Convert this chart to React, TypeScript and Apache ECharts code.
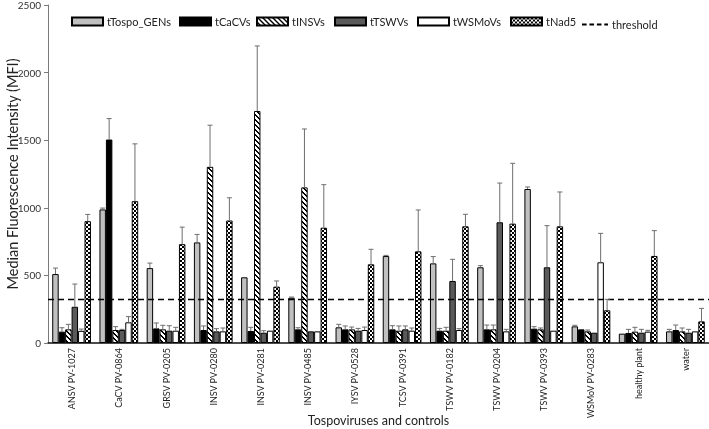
import React, { useEffect, useRef } from "react";
import * as echarts from "echarts";

const categories = [
  "ANSV PV-1027", "CaCV PV-0864", "GRSV PV-0205", "INSV PV-0280", "INSV PV-0281",
  "INSV PV-0485", "IYSV PV-0528", "TCSV PV-0391", "TSWV PV-0182", "TSWV PV-0204",
  "TSWV PV-0393", "WSMoV PV-0283", "healthy plant", "water",
];

const tTospo = [510, 988, 554, 744, 486, 335, 116, 643, 589, 560, 1139, 123, 69, 86];
const tTospoSD = [44, 10, 37, 59, 0, 5, 22, 5, 50, 12, 15, 8, 0, 15];
const tCaCV = [84, 1505, 108, 96, 89, 101, 101, 101, 91, 101, 106, 101, 74, 96];
const tCaCVSD = [29, 155, 40, 30, 27, 12, 25, 27, 17, 32, 15, 0, 27, 37];
const tINSV = [101, 96, 101, 1303, 1716, 1151, 101, 91, 91, 101, 101, 86, 84, 86];
const tINSVSD = [37, 25, 30, 308, 481, 432, 17, 35, 25, 32, 10, 10, 32, 25];
const tTSWV = [268, 96, 91, 86, 76, 86, 91, 101, 459, 893, 560, 76, 76, 76];
const tTSWVSD = [168, 5, 37, 20, 15, 0, 17, 25, 160, 290, 308, 0, 25, 25];
const tWSMoV = [90, 153, 91, 86, 91, 86, 96, 91, 96, 86, 91, 597, 84, 86];
const tWSMoVSD = [13, 42, 25, 25, 0, 0, 22, 20, 10, 15, 0, 214, 10, 0];
const tNad5 = [901, 1049, 731, 906, 417, 853, 582, 678, 863, 883, 863, 242, 644, 160];
const tNad5SD = [50, 424, 126, 168, 42, 318, 111, 306, 89, 446, 254, 81, 187, 96];

const threshold = 327;
const yTicks = { min: 0, max: 2500, interval: 500 };
const legendNames = ["tTospo_GENs", "tCaCVs", "tINSVs", "tTSWVs", "tWSMoVs", "tNad5", "threshold"];

function makePattern(kind: "stripe" | "checker") {
  const c = document.createElement("canvas");
  const s = kind === "stripe" ? 5 : 4;
  c.width = s;
  c.height = s;
  const ctx = c.getContext("2d")!;
  ctx.fillStyle = "#ffffff";
  ctx.fillRect(0, 0, s, s);
  ctx.fillStyle = "#000000";
  for (let y = 0; y < s; y++) {
    for (let x = 0; x < s; x++) {
      let on = false;
      if (kind === "stripe") on = ((x - y + 10) % 5) < 2;
      else on = ((Math.floor(x / 2) + Math.floor(y / 2)) % 2) === 0;
      if (on) ctx.fillRect(x, y, 1, 1);
    }
  }
  return { image: c.toDataURL(), repeat: "repeat", imageWidth: s, imageHeight: s } as any;
}

const FONT = "Lato, 'Open Sans', sans-serif";
const NARROW = "'Liberation Sans Narrow', Lato, sans-serif";
const DASH_ICON = "path://M0,0h5v2h-5z M8,0h5v2h-5z M16,0h5v2h-5z M24,0h4v2h-4z";

export default function App() {
  const ref = useRef<HTMLDivElement>(null);
  useEffect(() => {
    document.body.style.margin = "0";
    const chart = echarts.init(ref.current!, null, { renderer: "svg" });
    const stripe = makePattern("stripe");
    const checker = makePattern("checker");
    const defs = [
      { name: "tTospo_GENs", vals: tTospo, sd: tTospoSD, color: "#c0c0c0" as any },
      { name: "tCaCVs", vals: tCaCV, sd: tCaCVSD, color: "#000000" as any },
      { name: "tINSVs", vals: tINSV, sd: tINSVSD, color: stripe },
      { name: "tTSWVs", vals: tTSWV, sd: tTSWVSD, color: "#5a5a5a" as any },
      { name: "tWSMoVs", vals: tWSMoV, sd: tWSMoVSD, color: "#ffffff" as any },
      { name: "tNad5", vals: tNad5, sd: tNad5SD, color: checker },
    ];
    const n = defs.length;
    const gapRatio = 0.18;
    const barSeries = defs.map((d) => ({
      name: d.name,
      type: "bar",
      data: d.vals,
      barGap: "0%",
      barCategoryGap: "18%",
      itemStyle: { color: d.color, borderColor: "#000", borderWidth: 1 },
      z: 2,
    }));
    const errSeries = defs.map((d, k) => ({
      type: "custom",
      name: d.name + "_err",
      z: 5,
      silent: true,
      data: d.vals.map((v, i) => [i, v, v + d.sd[i]]),
      encode: { x: 0, y: [1, 2] },
      renderItem: (params: any, api: any) => {
        const i = api.value(0);
        const v = api.value(1);
        const t = api.value(2);
        if (t <= v) return null;
        const base = api.coord([i, v]);
        const top = api.coord([i, t]);
        const band = api.size([1, 0])[0];
        const bw = (band * (1 - gapRatio)) / n;
        const x = base[0] + (k - (n - 1) / 2) * bw;
        const style = { stroke: "#6e6e6e", lineWidth: 1 };
        return {
          type: "group",
          children: [
            { type: "line", shape: { x1: x, y1: base[1], x2: x, y2: top[1] }, style },
            { type: "line", shape: { x1: x - 2.5, y1: top[1], x2: x + 2.5, y2: top[1] }, style },
          ],
        };
      },
    }));
    const thresholdSeries = {
      name: "threshold",
      type: "line",
      data: [],
      symbol: "none",
      lineStyle: { color: "#000", type: [5, 3], width: 1.3 },
      itemStyle: { color: "#000" },
      markLine: {
        silent: true,
        symbol: "none",
        label: { show: false },
        lineStyle: { color: "#000", type: [6, 4], width: 1.3 },
        data: [{ yAxis: threshold }],
      },
    };
    const legendLefts = [66, 174, 251, 329, 412, 505, 577];
    const legends = legendNames.map((name, i) => ({
      left: legendLefts[i],
      top: i === 6 ? 14 : 11,
      itemWidth: i === 6 ? 26 : 31,
      itemHeight: i === 6 ? 2 : 8,
      itemGap: 5,
      icon: i === 6 ? DASH_ICON : "rect",
      selectedMode: false,
      textStyle: { fontFamily: FONT, fontSize: 11, color: "#222", padding: [0, 0, 0, -1] },
      data: [name],
    }));
    chart.setOption({
      animation: false,
      textStyle: { fontFamily: FONT },
      legend: legends,
      grid: { left: 48, right: 0, top: 5, bottom: 86, containLabel: false, outerBoundsMode: "none" },
      xAxis: {
        type: "category",
        data: categories,
        boundaryGap: true,
        name: "Tospoviruses and controls",
        nameLocation: "middle",
        nameGap: 71,
        nameMoveOverlap: false,
        nameTextStyle: { fontFamily: FONT, fontSize: 12.5, color: "#222" },
        axisLine: { lineStyle: { color: "#111", width: 1.5 } },
        axisTick: { show: false },
        axisLabel: { rotate: 90, fontSize: 9, color: "#222", fontFamily: NARROW, margin: 5, interval: 0 },
      },
      yAxis: {
        type: "value",
        min: yTicks.min,
        max: yTicks.max,
        interval: yTicks.interval,
        name: "Median Fluorescence Intensity (MFI)",
        nameLocation: "middle",
        nameGap: 28,
        nameMoveOverlap: false,
        nameTextStyle: { fontFamily: FONT, fontSize: 14.5, color: "#222" },
        splitLine: { show: false },
        axisLine: { show: true, lineStyle: { color: "#7a7a7a", width: 1 } },
        axisTick: { show: true, length: 4, lineStyle: { color: "#7a7a7a" } },
        axisLabel: { fontSize: 10, color: "#333", fontFamily: FONT, margin: 7, formatter: (v: number) => String(v) },
      },
      series: [...barSeries, ...errSeries, thresholdSeries],
    } as any);
    return () => chart.dispose();
  }, []);
  return (
    <div
      ref={ref}
      style={{ position: "fixed", left: 0, top: 0, width: 709, height: 429 }}
    />
  );
}
